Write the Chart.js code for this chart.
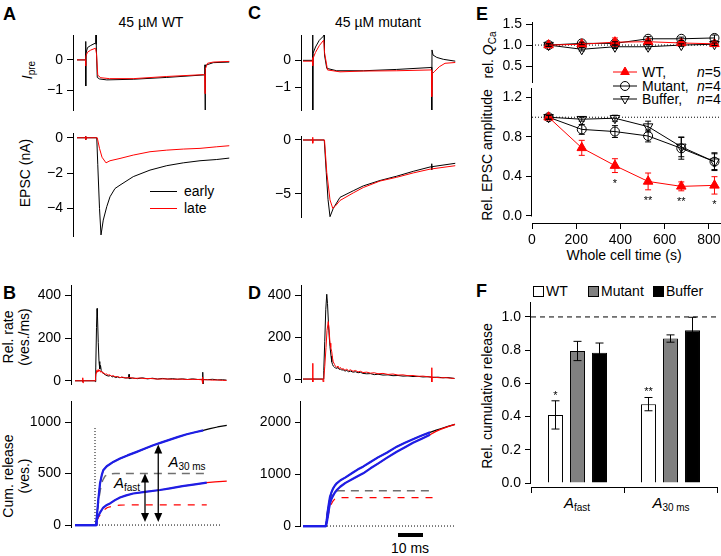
<!DOCTYPE html>
<html><head><meta charset="utf-8">
<script src="https://cdn.jsdelivr.net/npm/chart.js"></script>
<style>
html,body{margin:0;padding:0;background:#fff;}
body{position:relative;width:721px;height:556px;overflow:hidden;font-family:'Liberation Sans',Arial,Helvetica,sans-serif;color:#000;}
canvas{position:absolute;}
.t{position:absolute;font-size:14px;line-height:16px;white-space:nowrap;}
.c{transform:translate(-50%,-50%);}
.r{transform:translate(-50%,-50%) rotate(-90deg);text-align:center;}
.L{font-weight:bold;font-size:18px;line-height:18px;}
sub{font-size:10px;vertical-align:-3px;line-height:0;}
.ann{font-size:15px;}
.sw{position:absolute;width:9px;height:9px;border:1px solid #000;}
.lg{position:absolute;height:1px;}
</style></head><body>

<div class="t L" style="left:3px;top:5px">A</div>
<div class="t L" style="left:248px;top:4px">C</div>
<div class="t L" style="left:3px;top:284px">B</div>
<div class="t L" style="left:248px;top:284px">D</div>
<div class="t L" style="left:476px;top:5px">E</div>
<div class="t L" style="left:476px;top:282px">F</div>

<div class="t c" style="left:151px;top:22px">45 µM WT</div>
<div class="t c" style="left:378px;top:22px">45 µM mutant</div>

<div class="t r" style="left:27px;top:70px"><i>I</i><sub>pre</sub></div>
<div class="t r" style="left:25px;top:173px">EPSC (nA)</div>
<div class="t r" style="left:16px;top:337px">Rel. rate<br>(ves./ms)</div>
<div class="t r" style="left:16px;top:476px">Cum. release<br>(ves.)</div>
<div class="t r" style="left:488px;top:55px">rel. <i>Q</i><sub>Ca</sub></div>
<div class="t r" style="left:487px;top:155px">Rel. EPSC amplitude</div>
<div class="t c" style="left:624px;top:255px">Whole cell time (s)</div>
<div class="t r" style="left:487px;top:396px">Rel. cumulative release</div>

<div class="lg" style="left:150px;top:191px;width:27px;background:#000"></div>
<div class="t" style="left:184px;top:183px">early</div>
<div class="lg" style="left:150px;top:208px;width:27px;background:#ff0000"></div>
<div class="t" style="left:184px;top:200px">late</div>

<div class="t c ann" style="left:127px;top:483px"><i>A</i><sub>fast</sub></div>
<div class="t c ann" style="left:187px;top:462px"><i>A</i><sub>30 ms</sub></div>

<div class="t c" style="left:410px;top:548px">10 ms</div>

<svg style="position:absolute;left:610px;top:64px" width="30" height="44">
  <line x1="3" y1="8" x2="27" y2="8" stroke="#ff0000" stroke-width="1"/>
  <polygon points="15,3 19.3,10.5 10.7,10.5" fill="#ff0000" stroke="#ff0000"/>
  <line x1="3" y1="22" x2="27" y2="22" stroke="#000" stroke-width="1"/>
  <circle cx="15" cy="22" r="4.5" fill="none" stroke="#000"/>
  <line x1="3" y1="35" x2="27" y2="35" stroke="#000" stroke-width="1"/>
  <polygon points="15,40 19.3,32.5 10.7,32.5" fill="none" stroke="#000"/>
</svg>
<div class="t" style="left:642px;top:64px">WT,</div>
<div class="t" style="left:697px;top:64px"><i>n</i>=5</div>
<div class="t" style="left:642px;top:78px">Mutant,</div>
<div class="t" style="left:697px;top:78px"><i>n</i>=4</div>
<div class="t" style="left:642px;top:91px">Buffer,</div>
<div class="t" style="left:697px;top:91px"><i>n</i>=4</div>

<div class="sw" style="left:533px;top:286px;background:#fff"></div>
<div class="t" style="left:546px;top:283px">WT</div>
<div class="sw" style="left:588px;top:286px;background:#808080"></div>
<div class="t" style="left:601px;top:283px">Mutant</div>
<div class="sw" style="left:653px;top:286px;background:#000"></div>
<div class="t" style="left:666px;top:283px">Buffer</div>

<div class="t c ann" style="left:577px;top:503px"><i>A</i><sub>fast</sub></div>
<div class="t c ann" style="left:671px;top:503px"><i>A</i><sub>30 ms</sub></div>

<script>
// ================= DATA (time in ms) =================
const A_ipre_early = [[0,0],[3.4,0],[3.5,0.6],[3.5,-0.85],[3.6,0.22],[4.2,0.4],[5.5,0.47],[7.2,0.54],[7.5,0.56],[7.6,0.82],[7.7,0.5],[8.1,-0.57],[9,-0.62],[11.9,-0.65],[22.5,-0.63],[35.9,-0.57],[50.5,-0.49],[51.1,-0.5],[51.2,-0.16],[51.2,-1.63],[51.4,-0.2],[51.9,-0.16],[54.5,-0.09],[60.9,-0.07]];
const A_ipre_late  = [[0,0],[3.4,0],[3.5,-0.2],[3.55,0.1],[3.6,0.13],[4.2,0.25],[5.5,0.32],[7.4,0.38],[7.8,0.2],[8.3,-0.5],[9.5,-0.58],[13,-0.61],[22.5,-0.61],[35.9,-0.54],[50.5,-0.48],[51.1,-0.48],[51.2,-1.1],[51.3,-0.3],[52.2,-0.11],[54.5,-0.07],[60.9,-0.05]];
const A_epsc_early = [[0,0],[3.4,0],[3.5,0.08],[3.5,-0.1],[3.6,0],[7.9,0],[8.3,-1.5],[9.0,-4.0],[9.6,-5.5],[10.5,-4.66],[11.9,-3.9],[13.2,-3.34],[15.2,-2.87],[17.2,-2.68],[22.5,-2.2],[29.2,-1.83],[35.9,-1.58],[42.5,-1.42],[49.2,-1.3],[55.9,-1.23],[60.9,-1.15]];
const A_epsc_late  = [[0,0],[3.4,0],[3.5,0.08],[3.5,-0.1],[3.6,0],[8.1,0],[9,-0.6],[10,-1.1],[11.6,-1.42],[13.2,-1.3],[17.2,-1.17],[22.5,-0.98],[29.2,-0.79],[35.9,-0.7],[42.5,-0.64],[49.2,-0.6],[55.9,-0.51],[60.9,-0.45]];
const C_ipre_early = [[0,0],[3.8,0],[3.9,0.95],[3.9,-1.86],[4.0,0.26],[5,0.5],[6.5,0.75],[8.2,0.91],[8.4,0.95],[8.6,0.2],[9.5,-0.3],[13.5,-0.39],[24.1,-0.39],[37.5,-0.34],[50.8,-0.27],[51.4,-0.26],[51.5,-1.86],[51.6,0.39],[52,0.2],[53.5,0.11],[56.1,0.04],[60.9,-0.03]];
const C_ipre_late  = [[0,-0.03],[3.8,-0.03],[3.9,0.1],[3.9,-0.2],[4.0,0.07],[5,0.3],[6.5,0.55],[8.3,0.76],[8.6,0.3],[9.8,-0.36],[14.8,-0.43],[24.1,-0.4],[37.5,-0.39],[50.8,-0.36],[51.4,-0.36],[51.5,-1.36],[51.7,-0.5],[52.5,-0.43],[54.5,-0.24],[56.8,-0.11],[60.9,-0.08]];
const C_epsc_early = [[0,0],[8.5,0],[9.3,-3],[10,-5.5],[10.8,-7.1],[12.1,-6.33],[14.8,-5.31],[20.1,-4.7],[24.1,-4.25],[30.8,-3.75],[37.5,-3.35],[44.1,-2.9],[50.8,-2.5],[51.4,-2.48],[51.5,-2.2],[51.5,-2.75],[51.6,-2.47],[60.9,-2.16]];
const C_epsc_late  = [[0,0],[3.8,0],[3.9,0.25],[3.9,-0.3],[4.0,0],[8.6,0],[9.5,-3],[10.8,-5.55],[11.9,-6.33],[13,-6.1],[14.8,-5.6],[20.1,-4.9],[24.1,-4.4],[30.8,-3.8],[37.5,-3.45],[44.1,-3.05],[50.8,-2.7],[60.9,-2.38]];
const B_rate_early = [[0,0],[2.9,0],[3.0,4],[3.1,-3],[3.2,0],[7.9,0],[8.1,-4],[8.3,60],[8.6,250],[8.8,338],[9.0,300],[9.3,180],[9.6,90],[9.9,55],[10.2,72],[10.5,48],[10.9,40],[11.3,35],[11.8,30],[12.3,27],[12.8,24],[13.5,22],[14.2,25],[14.8,18],[15.5,20],[16.3,15],[17,18],[18,14],[18.5,17],[20.1,13],[21.5,14],[21.6,30],[21.7,10],[23,13],[25,10],[27,14],[29,9],[31,12],[33,8],[35,11],[37,8],[39,10],[41,7],[43,9],[45,6],[47,9],[49,6],[51.0,7],[51.1,40],[51.2,-20],[51.3,6],[53,5],[55,7],[57,4],[59,5],[60.6,3]];
const B_rate_late  = [[0,0],[3.0,0],[3.1,14],[3.2,-10],[3.3,0],[8.0,0],[8.2,15],[8.4,35],[8.6,48],[8.9,40],[9.2,52],[9.5,44],[9.9,50],[10.3,40],[10.7,44],[11.1,35],[11.5,38],[12,30],[12.6,32],[13.2,26],[13.8,28],[14.5,22],[15.3,24],[16,19],[17,20],[18,15],[19,17],[20.5,13],[22,15],[24,11],[26,13],[28,10],[30,11],[33,8],[36,9],[39,7],[42,8],[45,6],[48,7],[50.8,5],[51,18],[51.1,-12],[51.2,5],[53,5],[55,3],[57,4],[59,2],[60.6,2]];
const B_cum_early = [[0,0],[8.4,0],[8.8,100],[9.3,242],[10,403],[10.7,484],[11.3,532],[12.7,571],[15.3,613],[18,645],[21,676],[24.7,710],[28,742],[31.3,774],[34.7,802],[38,829],[41.3,856],[44.7,881],[48,901],[51.3,919],[54,936],[57,952],[60.7,968]];
const B_cum_late  = [[0,0],[8.5,0],[8.7,48],[9.3,88],[10,120],[11.3,170],[12.5,192],[14,210],[16,242],[18,268],[20.5,288],[23.3,306],[28,322],[34,340],[38,356],[43,378],[48,395],[52.7,411],[56,419],[60.7,427]];
const B_fitEnd = 52.7;
const B_fast_early = [[9.0,150],[9.6,260],[10.2,350],[11,430],[12,475],[13.5,495],[16,500],[52.7,500]];
const B_fast_late  = [[8.7,40],[9.5,80],[10.5,115],[11.5,145],[13,170],[15.5,186],[18,193],[22,196],[52.7,196]];
const B_zeroLine  = [[0,0],[58.8,0]];
const B_onsetLine = [[8,0],[8,960]];
const B_arrows = [{x:28, y0:30, y1:500}, {x:33.3, y0:30, y1:782}];
const D_rate_early = [[0,0],[3.8,0],[3.9,3],[4.0,0],[8.0,0],[8.3,40],[8.7,180],[9.1,330],[9.5,404],[9.8,360],[10.2,260],[10.5,200],[10.8,154],[11.2,110],[11.5,82],[11.8,70],[12.1,62],[12.5,58],[13,52],[13.5,51],[14,55],[14.5,46],[15,48],[15.5,42],[16,45],[16.8,38],[17.5,41],[18.2,35],[19,38],[20,33],[21,35],[22,30],[23,32],[24,27],[25.5,25],[27,26],[28.5,21],[30,23],[32,19],[34,20],[36,16],[38,17],[40,14],[42,15],[44,12],[46,13],[48,10],[50,11],[52,8],[54,9],[56,6],[58,7],[60.6,3]];
const D_rate_late  = [[0,0],[3.8,0],[3.9,75],[3.95,-20],[4.0,0],[7.9,0],[8.1,-18],[8.3,0],[8.7,60],[9.2,150],[9.6,230],[10.1,274],[10.4,240],[10.8,171],[11.1,150],[11.5,130],[11.8,100],[12.1,82],[12.6,70],[13,60],[13.5,56],[14,62],[14.5,50],[15,55],[15.5,46],[16,50],[16.8,42],[17.5,47],[18.2,40],[19,44],[20,37],[21,41],[22,34],[23,37],[24,31],[25.5,33],[27,28],[28.5,30],[30,25],[32,27],[34,22],[36,24],[38,19],[40,20],[42,16],[44,17],[46,13],[48,14],[50,11],[51.4,10],[51.5,54],[51.55,-20],[51.6,9],[53,8],[55,6],[57,7],[59,4],[60.6,3]];
const D_cum_early = [[0,0],[9.1,0],[9.5,120],[9.8,250],[10.3,420],[10.8,563],[11.4,650],[12,720],[12.7,775],[13.5,821],[15,880],[17,935],[20,1030],[22,1090],[24,1141],[27,1230],[30,1320],[33.5,1410],[37.5,1526],[41,1605],[44,1670],[47.5,1740],[50.8,1801],[53,1838],[55,1870],[58,1915],[60.8,1955]];
const D_cum_late  = [[0,0],[9.2,0],[9.6,90],[10,200],[10.4,330],[10.8,436],[11.4,520],[12,580],[12.7,640],[13.5,692],[15,760],[17,830],[20,910],[22,960],[24.1,1013],[27,1110],[30,1200],[33.5,1310],[37.5,1429],[41,1520],[44,1600],[47.5,1680],[50.8,1756],[53,1815],[55,1858],[58,1912],[60.8,1955]];
const D_fitEnd = 52.8;
const D_fast_early = [[9.5,200],[10,330],[10.5,440],[11.2,560],[12,630],[12.9,665],[13.9,680],[52,680]];
const D_fast_late  = [[9.8,150],[10.5,300],[11.2,410],[12,480],[12.8,525],[13.6,545],[52,545]];
const D_zeroLine = [[0,0],[60.8,0]];
const D_scaleBar = [[38,-173],[48,-173]];   // 10 ms scale bar
const A_ipre_ticks = [-1, 0], A_epsc_ticks = [-4, -2, 0];
const C_ipre_ticks = [-1, 0], C_epsc_ticks = [-5, 0];
const rate_ticks = [0, 200, 400], B_cum_ticks = [0, 500, 1000], D_cum_ticks = [0, 1000, 2000];
// Panel E (whole-cell time, s)
const E_time = [75, 225, 375, 525, 675, 825];
const E_xticks = [0, 200, 400, 600, 800];
const E_qca_ticks = [0.5, 1.0, 1.5];
const E_amp_ticks = [0.0, 0.4, 0.8, 1.2];
const E_qca_WT  = [1.0, 1.02, 1.07, 1.08, 1.05, 1.03];
const E_qca_WT_err  = [0.03, 0.03, 0.1, 0.05, 0.03, 0.04];
const E_qca_Mut = [1.0, 1.04, 1.04, 1.15, 1.15, 1.17];
const E_qca_Mut_err = [0.03, 0.03, 0.04, 0.05, 0.04, 0.07];
const E_qca_Buf = [1.0, 0.9, 0.96, 0.96, 1.0, 1.02];
const E_qca_Buf_err = [0.03, 0.04, 0.04, 0.05, 0.03, 0.03];
const E_amp_WT  = [1.0, 0.69, 0.51, 0.35, 0.30, 0.31];
const E_amp_WT_err  = [0.02, 0.076, 0.07, 0.085, 0.045, 0.088];
const E_amp_Mut = [1.0, 0.877, 0.855, 0.81, 0.685, 0.55];
const E_amp_Mut_err = [0.02, 0.05, 0.06, 0.06, 0.11, 0.09];
const E_amp_Buf = [1.0, 0.98, 0.99, 0.905, 0.70, 0.55];
const E_amp_Buf_err = [0.02, 0.02, 0.03, 0.055, 0.1, 0.08];
const E_amp_stars = ['', '', '*', '**', '**', '*'];
const E_ref = 1.0;
// Panel F
const F_categories = ['A_fast', 'A_30 ms'];
const F_WT  = [0.41, 0.475], F_WT_err  = [0.085, 0.04];
const F_Mut = [0.795, 0.87], F_Mut_err = [0.058, 0.022];
const F_Buf = [0.785, 0.92], F_Buf_err = [0.058, 0.078];
const F_stars = ['*', '**'];
const F_ticks = [0, 0.2, 0.4, 0.6, 0.8, 1.0];
const F_ref = 1.0;

// ================= HELPERS =================
const PAD = 12, RED = '#ff0000', BLUE = '#1e1ee6', GREY = '#808080';
Chart.defaults.font.family = "'Liberation Sans', Arial, Helvetica, sans-serif";
Chart.defaults.font.size = 14;
Chart.defaults.color = '#000';

const pts = a => a.map(p => ({x: p[0], y: p[1]}));
const zip = (xs, ys) => xs.map((x, i) => ({x, y: ys[i]}));
const upTo = (a, tEnd) => a.filter(p => p[0] <= tEnd);
const fmt = (v, d) => (d ? Number(v).toFixed(d) : String(Math.round(v))).replace('-', '\u2212');

const extras = {
  id: 'extras',
  afterDatasetsDraw(chart) {
    const ctx = chart.ctx, o = chart.options.plugins.extras || {};
    const ys = chart.scales.y, area = chart.chartArea;
    ctx.save();
    ctx.strokeStyle = '#000'; ctx.fillStyle = '#000'; ctx.lineWidth = 1;
    if (o.yLine) {
      const x = Math.round(area.left) - 0.5;
      ctx.beginPath(); ctx.moveTo(x, ys.getPixelForValue(o.yLine[0]) + 0.5); ctx.lineTo(x, ys.getPixelForValue(o.yLine[1])); ctx.stroke();
    }
    chart.data.datasets.forEach((ds, i) => {
      if (!ds.errors && !ds.stars) return;
      const meta = chart.getDatasetMeta(i);
      meta.data.forEach((el, j) => {
        const raw = ds.data[j];
        const v = (typeof raw === 'object') ? raw.y : raw;
        const e = ds.errors ? ds.errors[j] : 0;
        const top = ys.getPixelForValue(v + e), bot = ys.getPixelForValue(v - e);
        if (ds.errors) {
          const h = ds.capHalf || 3;
          ctx.strokeStyle = ds.errColor || '#000'; ctx.lineWidth = 1;
          ctx.beginPath();
          ctx.moveTo(el.x, top); ctx.lineTo(el.x, bot);
          ctx.moveTo(el.x - h, top); ctx.lineTo(el.x + h, top);
          ctx.moveTo(el.x - h, bot); ctx.lineTo(el.x + h, bot);
          ctx.stroke();
        }
        if (ds.stars && ds.stars[j]) {
          ctx.fillStyle = '#000'; ctx.font = "11px 'Liberation Sans', Arial, sans-serif";
          ctx.textAlign = 'center'; ctx.textBaseline = 'alphabetic';
          ctx.fillText(ds.stars[j], el.x, ds.starPos === 'below' ? bot + 14 : top - 2);
        }
      });
    });
    if (o.arrows) {
      const xs = chart.scales.x;
      ctx.strokeStyle = '#000'; ctx.fillStyle = '#000'; ctx.lineWidth = 1.3;
      o.arrows.forEach(a => {
        const x = xs.getPixelForValue(a.x), p0 = ys.getPixelForValue(a.y0), p1 = ys.getPixelForValue(a.y1);
        ctx.beginPath(); ctx.moveTo(x, p0 - 6); ctx.lineTo(x, p1 + 6); ctx.stroke();
        ctx.beginPath(); ctx.moveTo(x, p1); ctx.lineTo(x - 4, p1 + 9); ctx.lineTo(x + 4, p1 + 9); ctx.closePath(); ctx.fill();
        ctx.beginPath(); ctx.moveTo(x, p0); ctx.lineTo(x - 4, p0 - 9); ctx.lineTo(x + 4, p0 - 9); ctx.closePath(); ctx.fill();
      });
    }
    ctx.restore();
  }
};

function yScale(min, max, ticks, yw, dec, border) {
  return {
    type: 'linear', position: 'left', min, max,
    afterBuildTicks: s => { s.ticks = ticks.map(v => ({value: v})); },
    afterFit: s => { s.width = yw; s.paddingTop = 0; s.paddingBottom = 0; },
    ticks: {callback: v => fmt(v, dec), padding: 4, color: '#000', autoSkip: false, font: {size: 14}},
    grid: {display: true, drawOnChartArea: false, drawTicks: true, tickLength: 6, color: '#000', lineWidth: 1},
    border: {display: border, color: '#000', width: 1}
  };
}
const xHidden = (min, max) => ({type: 'linear', min, max, display: false});

function mk(box, type, datasets, scales, extraOpts, labels) {
  const c = document.createElement('canvas');
  const w = box.r - box.l + box.yw + 2 * PAD, h = box.b - box.t + (box.xh || 0) + 2 * PAD;
  c.width = w; c.height = h;
  Object.assign(c.style, {left: (box.l - box.yw - PAD) + 'px', top: (box.t - PAD) + 'px', width: w + 'px', height: h + 'px'});
  document.body.appendChild(c);
  const data = labels ? {labels, datasets} : {datasets};
  return new Chart(c, {
    type, data,
    options: {
      responsive: false, maintainAspectRatio: false, animation: false, devicePixelRatio: 1, events: [],
      layout: {padding: PAD, autoPadding: false},
      scales,
      plugins: {legend: {display: false}, tooltip: {enabled: false}, extras: extraOpts || {}}
    },
    plugins: [extras]
  });
}
function ln(a, color, width, dash) {
  return {type: 'line', data: pts(a), borderColor: color, borderWidth: width || 1, borderDash: dash || [],
          pointRadius: 0, fill: false, tension: 0, borderJoinStyle: 'round'};
}
const DOT = [1, 2];

// ================= PANEL A =================
mk({l: 73, t: 35, r: 230, b: 110, yw: 45}, 'line',
  [ln(A_ipre_late, RED), ln(A_ipre_early, '#000')],
  {x: xHidden(-1.6, 61.2), y: yScale(-1.63, 0.81, A_ipre_ticks, 45, 0, true)});
mk({l: 73, t: 133, r: 230, b: 236, yw: 45}, 'line',
  [ln(A_epsc_late, RED), ln(A_epsc_early, '#000')],
  {x: xHidden(-1.6, 61.2), y: yScale(-5.56, 0.27, A_epsc_ticks, 45, 0, true)});

// ================= PANEL C =================
mk({l: 301, t: 35, r: 456, b: 110, yw: 45}, 'line',
  [ln(C_ipre_late, RED), ln(C_ipre_early, '#000')],
  {x: xHidden(-0.8, 61.2), y: yScale(-1.86, 0.95, C_ipre_ticks, 45, 0, true)});
mk({l: 301, t: 136, r: 456, b: 217, yw: 45}, 'line',
  [ln(C_epsc_late, RED), ln(C_epsc_early, '#000')],
  {x: xHidden(-0.8, 61.2), y: yScale(-7.13, 0.37, C_epsc_ticks, 45, 0, true)});

// ================= PANEL B =================
mk({l: 71, t: 285, r: 228, b: 384, yw: 50}, 'line',
  [ln(B_rate_late, RED), ln(B_rate_early, '#000')],
  {x: xHidden(-1.6, 61.2), y: yScale(-15, 448, rate_ticks, 50, 0, true)});
mk({l: 71, t: 401, r: 228, b: 527, yw: 50}, 'line',
  [ln(upTo(B_cum_late, B_fitEnd), BLUE, 2.2), ln(upTo(B_cum_early, B_fitEnd), BLUE, 2.2),
   ln(B_cum_late, RED, 1.2), ln(B_cum_early, '#000', 1.2),
   ln(B_fast_late, RED, 1.2, [7, 7]), ln(B_fast_early, '#707070', 1.5, [8, 6]),
   ln(B_zeroLine, '#000', 1, DOT), ln(B_onsetLine, '#000', 1, DOT)],
  {x: xHidden(-1.6, 61.2), y: yScale(-19, 1204, B_cum_ticks, 50, 0, true)},
  {arrows: B_arrows});

// ================= PANEL D =================
mk({l: 301, t: 285, r: 456, b: 382, yw: 50}, 'line',
  [ln(D_rate_late, RED), ln(D_rate_early, '#000')],
  {x: xHidden(-0.8, 61.2), y: yScale(-14, 448, rate_ticks, 50, 0, true)});
mk({l: 301, t: 401, r: 456, b: 537, yw: 55}, 'line',
  [ln(upTo(D_cum_late, D_fitEnd), BLUE, 2.2), ln(upTo(D_cum_early, D_fitEnd), BLUE, 2.2),
   ln(D_cum_late, RED, 1.2), ln(D_cum_early, '#000', 1.2),
   ln(D_fast_late, RED, 1.2, [7, 7]), ln(D_fast_early, '#707070', 1.5, [8, 6]),
   ln(D_zeroLine, '#000', 1, DOT), ln(D_scaleBar, '#000', 4)],
  {x: xHidden(-0.8, 61.2), y: yScale(-211, 2404, D_cum_ticks, 55, 0, false)},
  {yLine: [0, 2404]});

// ================= PANEL E =================
function eSets(wt, wtE, mut, mutE, buf, bufE, stars) {
  return [
    {type: 'line', data: zip(E_time, wt), borderColor: RED, backgroundColor: RED, borderWidth: 1,
     pointStyle: 'triangle', pointRadius: 5.5, pointBorderWidth: 1, tension: 0,
     errors: wtE, errColor: RED, capHalf: 3, stars: stars, starPos: 'below'},
    {type: 'line', data: zip(E_time, mut), borderColor: '#000', backgroundColor: 'rgba(0,0,0,0)', borderWidth: 1,
     pointStyle: 'circle', pointRadius: 4.5, pointBorderWidth: 1, tension: 0, errors: mutE, capHalf: 3},
    {type: 'line', data: zip(E_time, buf), borderColor: '#000', backgroundColor: 'rgba(0,0,0,0)', borderWidth: 1,
     pointStyle: 'triangle', pointRotation: 180, pointRadius: 5.5, pointBorderWidth: 1, tension: 0, errors: bufE, capHalf: 3},
    {type: 'line', data: [{x: 0, y: E_ref}, {x: 850, y: E_ref}], borderColor: '#000', borderWidth: 1, borderDash: DOT, pointRadius: 0}
  ];
}
mk({l: 532, t: 22, r: 720, b: 82, yw: 40}, 'line',
  eSets(E_qca_WT, E_qca_WT_err, E_qca_Mut, E_qca_Mut_err, E_qca_Buf, E_qca_Buf_err, null),
  {x: xHidden(0, 850), y: yScale(0.12, 1.55, E_qca_ticks, 40, 1, true)});
mk({l: 532, t: 88, r: 720, b: 223, yw: 40, xh: 30}, 'line',
  eSets(E_amp_WT, E_amp_WT_err, E_amp_Mut, E_amp_Mut_err, E_amp_Buf, E_amp_Buf_err, E_amp_stars),
  {x: {type: 'linear', position: 'bottom', min: 0, max: 850,
       afterBuildTicks: s => { s.ticks = E_xticks.map(v => ({value: v})); },
       afterFit: s => { s.height = 30; s.paddingLeft = 0; s.paddingRight = 0; },
       ticks: {padding: 3, color: '#000', autoSkip: false, maxRotation: 0, font: {size: 14}, callback: v => String(v)},
       grid: {display: true, drawOnChartArea: false, tickLength: 6, color: '#000'},
       border: {display: true, color: '#000', width: 1}},
   y: yScale(-0.071, 1.296, E_amp_ticks, 40, 1, false)},
  {yLine: [0, 1.296]});

// ================= PANEL F =================
const fBox = {l: 531, t: 302, r: 717, b: 487, yw: 40, xh: 10};
// reference line at 1.0, in an overlay chart sharing the same geometry
mk({l: 531, t: 302, r: 720, b: 487, yw: 40, xh: 10}, 'line',
  [{type: 'line', data: [{x: 0, y: F_ref}, {x: 1, y: F_ref}], borderColor: '#000', borderWidth: 1, borderDash: [5, 4], pointRadius: 0}],
  {x: {type: 'linear', min: 0, max: 1, display: true, afterFit: s => { s.height = 10; s.paddingLeft = 0; s.paddingRight = 0; },
       ticks: {display: false}, grid: {display: false}, border: {display: false}},
   y: Object.assign(yScale(-0.024, 1.09, F_ticks, 40, 1, false), {ticks: {display: false}, grid: {display: false}})});
const barCommon = {borderColor: '#000', borderWidth: 1, categoryPercentage: 0.71, barPercentage: 0.68,
                   capHalf: 4, starPos: 'above'};
mk(fBox, 'bar',
  [Object.assign({label: 'WT', data: F_WT, backgroundColor: '#ffffff', errors: F_WT_err, stars: F_stars}, barCommon),
   Object.assign({label: 'Mutant', data: F_Mut, backgroundColor: GREY, errors: F_Mut_err}, barCommon),
   Object.assign({label: 'Buffer', data: F_Buf, backgroundColor: '#000000', errors: F_Buf_err}, barCommon)],
  {x: {type: 'category', offset: true,
       afterFit: s => { s.height = 10; s.paddingLeft = 0; s.paddingRight = 0; },
       ticks: {display: false},
       grid: {display: true, offset: true, drawOnChartArea: false, tickLength: 6, color: '#000'},
       border: {display: true, color: '#000', width: 1}},
   y: yScale(-0.024, 1.09, F_ticks, 40, 1, false)},
  {yLine: [0, 1.09]}, F_categories);
</script>
</body></html>
